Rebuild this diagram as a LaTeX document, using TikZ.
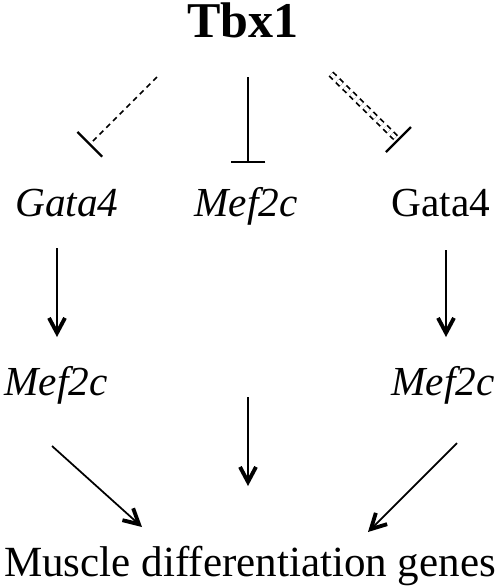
\documentclass[tikz,border=0pt]{standalone}
\usepackage{fontspec}
\setmainfont{Liberation Serif}
\usetikzlibrary{calc, arrows.meta, positioning}
\tikzset{
    gene/.style = {inner sep=0pt, anchor=base, font=\fontsize{23.5}{28}\selectfont\itshape},
    act/.style = {line width=1pt, -{Straight Barb[length=3mm, width=3.2mm, line width=2.2pt]}},
    inhib/.style = {line width=1pt, -{Bar[width=7mm, line width=1.3pt]}},
    dsh/.style = {dash pattern=on 3pt off 2.4pt}
}
\begin{document}
\begin{tikzpicture}[x=0.02cm, y=-0.02cm]
        \useasboundingbox (0,0) rectangle (500,586);

        %nodes

        \node(tbx)[inner sep=0pt, anchor=base, font=\fontsize{28.5}{32}\selectfont\bfseries] at (243,37) {Tbx1};
        \node(gataL)[gene] at (67,216) {Gata4};
        \node(mefM)[gene] at (246,216) {Mef2c};
        \node(gataR)[gene, font=\fontsize{23.5}{28}\selectfont] at (441,216) {Gata4};
        \node(mefL)[gene] at (56,395) {Mef2c};
        \node(mefR)[gene] at (443,395) {Mef2c};
        \node(genes)[gene, font=\fontsize{24.5}{28}\selectfont] at (250,576) {Muscle differentiation genes};

        %repression

        \draw[inhib, dsh] ($(tbx.base)+(-86,40)$) -- ($(gataL.base)+(22,-71)$);
        \draw[inhib] ($(tbx.base)+(5,40)$) -- ($(mefM.base)+(2,-53)$);
        \draw[dsh, double, double distance=2pt, line width=1pt] ($(tbx.base)+(88,37)$) -- ($(gataR.base)+(-45,-78)$);
        \draw[line width=1.3pt] ($(gataR.base)+(-55,-64)$) -- ($(gataR.base)+(-30,-89)$);

        %arrows

        \draw[act] ($(gataL.base)+(-10,32)$) -- ($(mefL.base)+(1,-58)$);
        \draw[act] ($(gataR.base)+(5,34)$) -- ($(mefR.base)+(3,-58)$);
        \draw[act] ($(mefM.base)+(2,181)$) -- ($(genes.base)+(-2,-90)$);
        \draw[act] ($(mefL.base)+(-4,51)$) -- ($(genes.base)+(-108,-49)$);
        \draw[act] ($(mefR.base)+(14,48)$) -- ($(genes.base)+(118,-44)$);
\end{tikzpicture}
\end{document}
